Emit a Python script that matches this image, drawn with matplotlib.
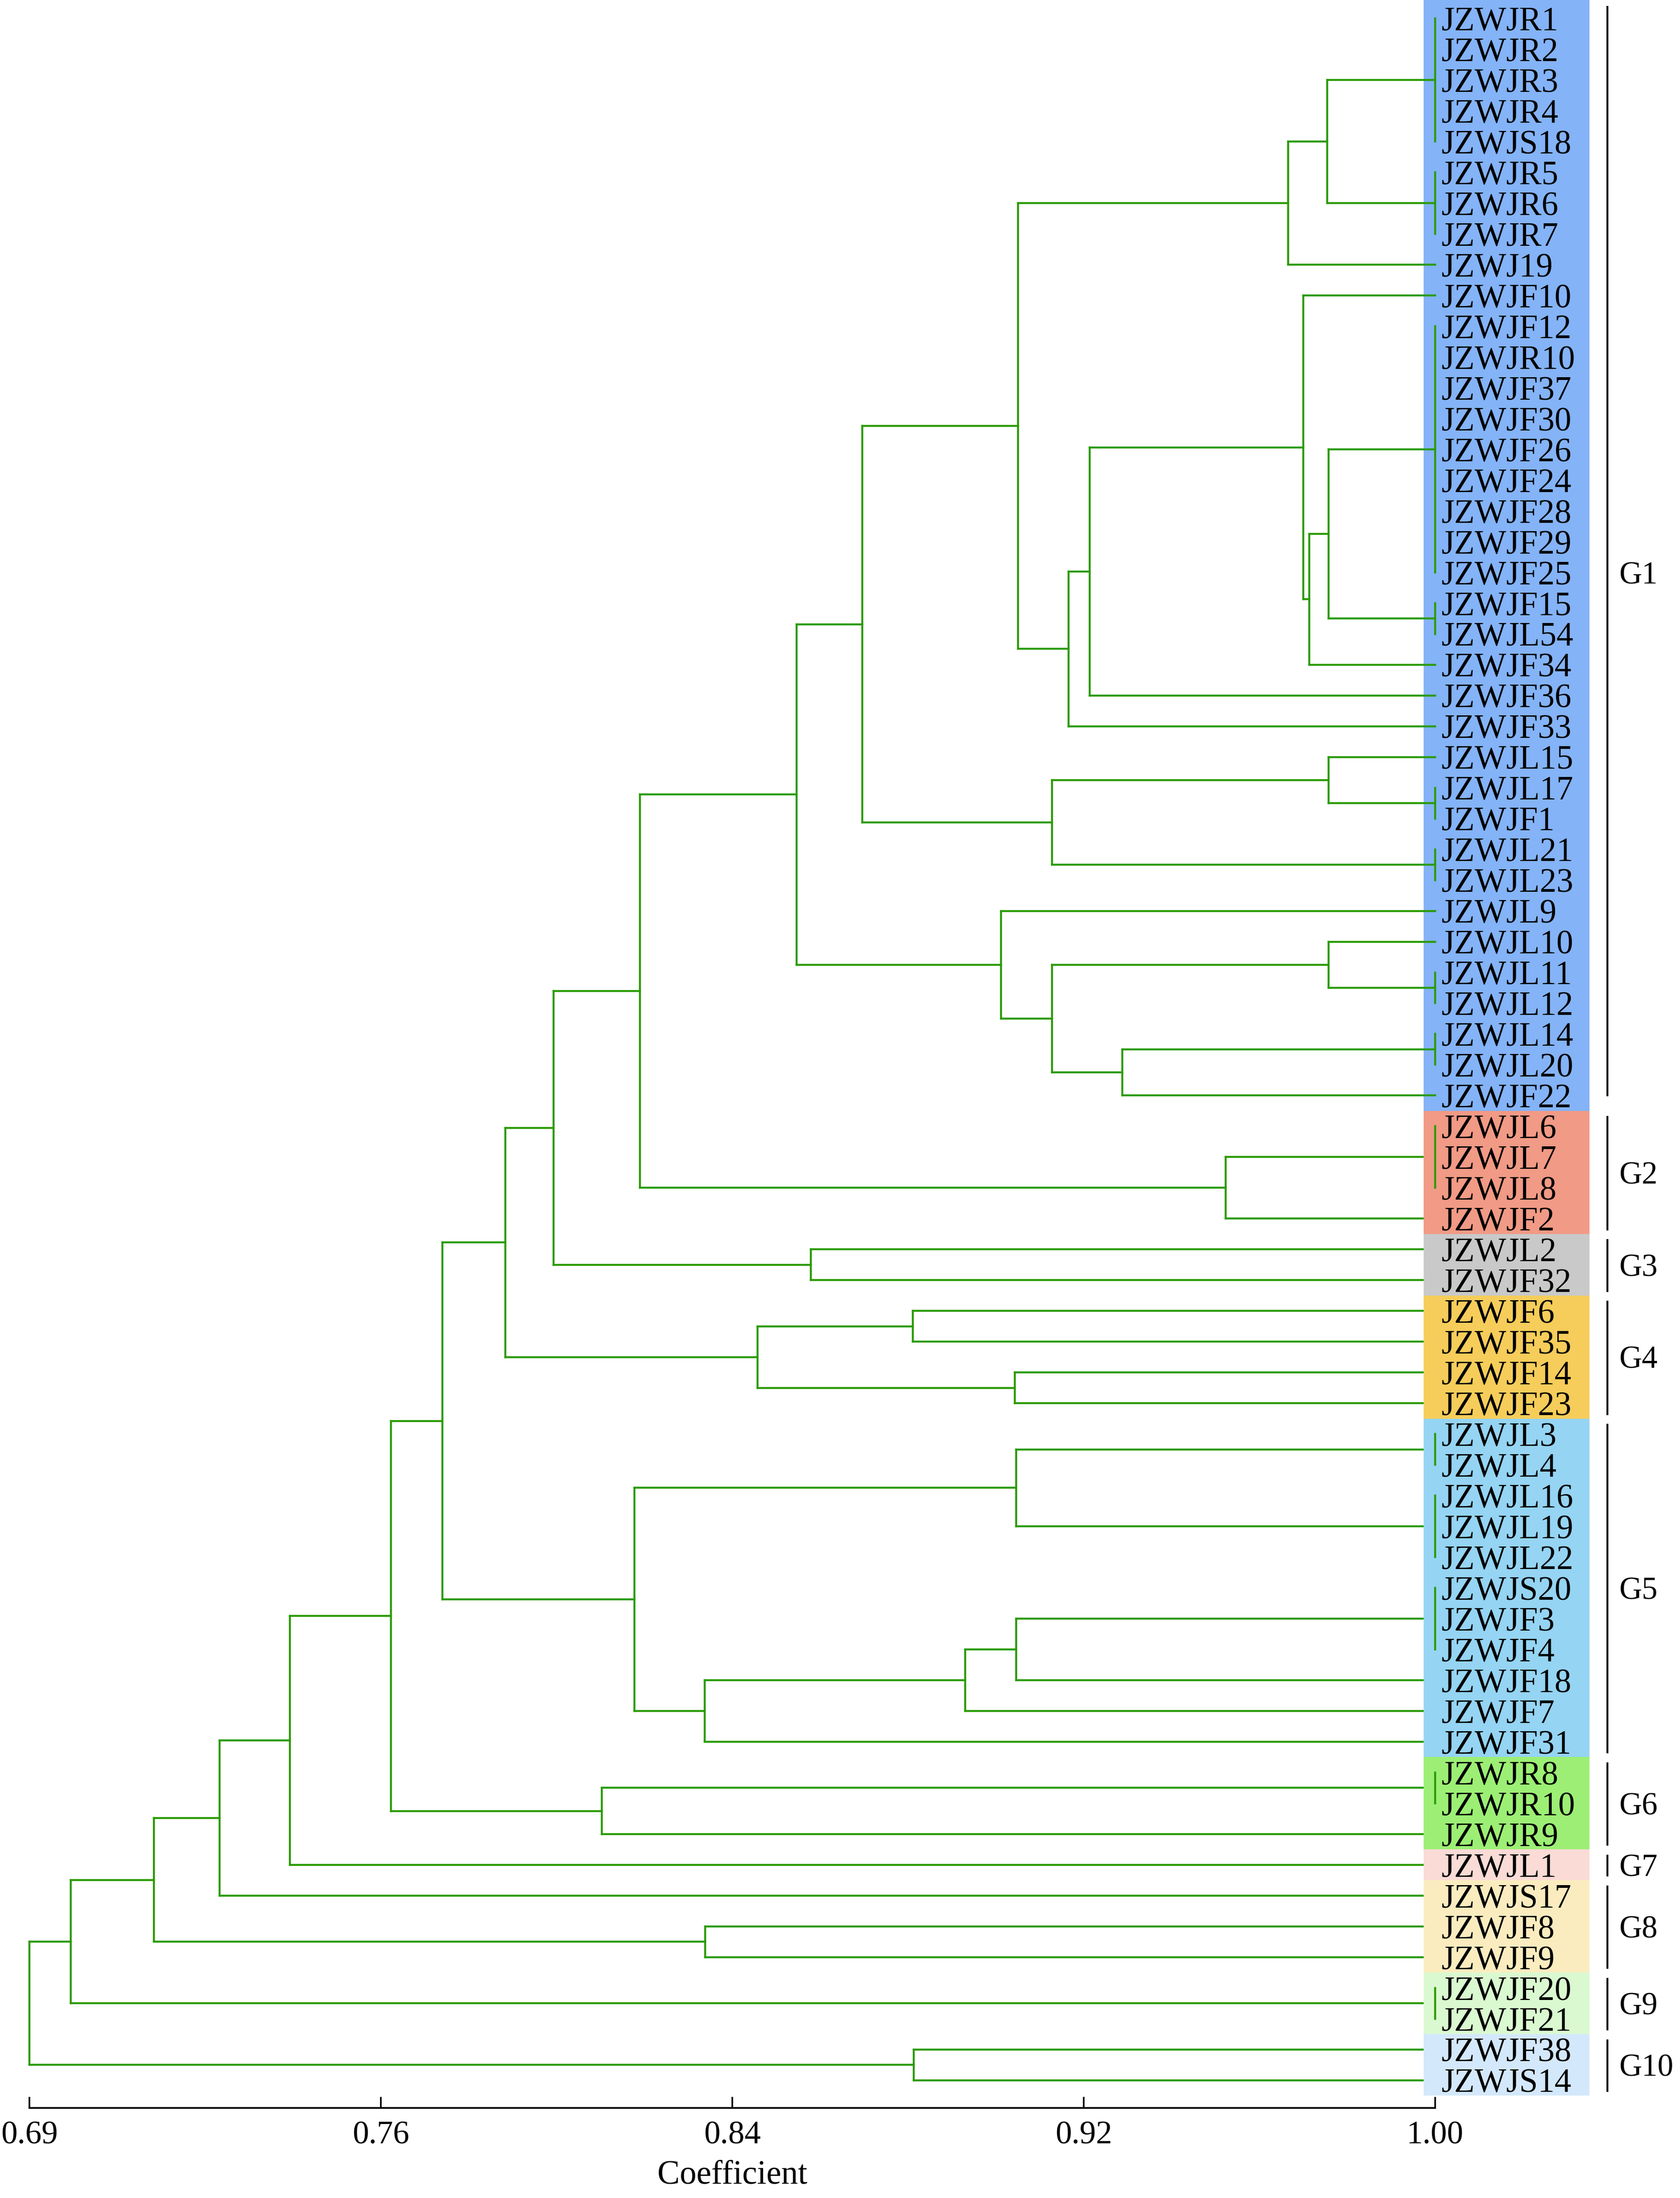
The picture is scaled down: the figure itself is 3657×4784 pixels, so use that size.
# -*- coding: utf-8 -*-
"""
UPGMA style dendrogram of JZWJ accessions, groups G1-G10 shaded on the right
"""
import numpy as np
import matplotlib
matplotlib.use('Agg')
from matplotlib import pyplot as plt
from matplotlib.patches import Rectangle

plt.rcParams['font.family'] = ['Liberation Serif', 'DejaVu Serif']

# leaf labels, top to bottom
leaves = ['JZWJR1', 'JZWJR2', 'JZWJR3', 'JZWJR4', 'JZWJS18', 'JZWJR5', 'JZWJR6',
          'JZWJR7', 'JZWJ19', 'JZWJF10', 'JZWJF12', 'JZWJR10', 'JZWJF37', 'JZWJF30',
          'JZWJF26', 'JZWJF24', 'JZWJF28', 'JZWJF29', 'JZWJF25', 'JZWJF15', 'JZWJL54',
          'JZWJF34', 'JZWJF36', 'JZWJF33', 'JZWJL15', 'JZWJL17', 'JZWJF1', 'JZWJL21',
          'JZWJL23', 'JZWJL9', 'JZWJL10', 'JZWJL11', 'JZWJL12', 'JZWJL14', 'JZWJL20',
          'JZWJF22',
          'JZWJL6', 'JZWJL7', 'JZWJL8', 'JZWJF2',
          'JZWJL2', 'JZWJF32',
          'JZWJF6', 'JZWJF35', 'JZWJF14', 'JZWJF23',
          'JZWJL3', 'JZWJL4', 'JZWJL16', 'JZWJL19', 'JZWJL22', 'JZWJS20', 'JZWJF3',
          'JZWJF4', 'JZWJF18', 'JZWJF7', 'JZWJF31',
          'JZWJR8', 'JZWJR10', 'JZWJR9',
          'JZWJL1',
          'JZWJS17', 'JZWJF8', 'JZWJF9',
          'JZWJF20', 'JZWJF21',
          'JZWJF38', 'JZWJS14']

# merges: (node, children top->bottom, similarity coefficient)
# ints are leaf indices, strings are earlier nodes
merges = [
    ('n1', [0, 1, 2, 3, 4], 1.000),
    ('n2', [5, 6, 7], 1.000),
    ('n3', ['n1', 'n2'], 0.9762),
    ('n4', ['n3', 8], 0.9676),
    ('n5', [10, 11, 12, 13, 14, 15, 16, 17, 18], 1.000),
    ('n6', [19, 20], 1.000),
    ('n7', ['n5', 'n6'], 0.9765),
    ('n8', ['n7', 21], 0.9722),
    ('n9', [9, 'n8'], 0.9709),
    ('n10', ['n9', 22], 0.9238),
    ('n11', ['n10', 23], 0.9192),
    ('n12', ['n4', 'n11'], 0.9080),
    ('n13', [25, 26], 1.000),
    ('n14', [24, 'n13'], 0.9765),
    ('n15', [27, 28], 1.000),
    ('n16', ['n14', 'n15'], 0.9155),
    ('n17', ['n12', 'n16'], 0.8737),
    ('n18', [31, 32], 1.000),
    ('n19', [30, 'n18'], 0.9765),
    ('n20', [33, 34], 1.000),
    ('n21', ['n20', 35], 0.9310),
    ('n22', ['n19', 'n21'], 0.9155),
    ('n23', [29, 'n22'], 0.9043),
    ('n24', ['n17', 'n23'], 0.8592),
    ('n25', [36, 37, 38], 1.000),
    ('n26', ['n25', 39], 0.9538),
    ('n27', ['n24', 'n26'], 0.8246),
    ('n28', [40, 41], 0.8623),
    ('n29', ['n27', 'n28'], 0.8056),
    ('n30', [42, 43], 0.8848),
    ('n31', [44, 45], 0.9073),
    ('n32', ['n30', 'n31'], 0.8506),
    ('n33', ['n29', 'n32'], 0.7950),
    ('n34', [46, 47], 1.000),
    ('n35', [48, 49, 50], 1.000),
    ('n36', ['n34', 'n35'], 0.9076),
    ('n37', [51, 52, 53], 1.000),
    ('n38', ['n37', 54], 0.9076),
    ('n39', ['n38', 55], 0.8964),
    ('n40', ['n39', 56], 0.8389),
    ('n41', ['n36', 'n40'], 0.8234),
    ('n42', ['n33', 'n41'], 0.7811),
    ('n43', [57, 58], 1.000),
    ('n44', ['n43', 59], 0.8162),
    ('n45', ['n42', 'n44'], 0.7697),
    ('n46', ['n45', 60], 0.7474),
    ('n47', ['n46', 61], 0.7319),
    ('n48', [62, 63], 0.8390),
    ('n49', ['n47', 'n48'], 0.7175),
    ('n50', [64, 65], 1.000),
    ('n51', ['n49', 'n50'], 0.6991),
    ('n52', [66, 67], 0.8850),
    ('n53', ['n51', 'n52'], 0.6900),
]

# groups: name, first leaf, last leaf, shade colour
group_names = ['G1', 'G2', 'G3', 'G4', 'G5', 'G6', 'G7', 'G8', 'G9', 'G10']
group_first = [0, 36, 40, 42, 46, 57, 60, 61, 64, 66]
group_last = [35, 39, 41, 45, 56, 59, 60, 63, 65, 67]
group_colors = ['#84B3F7', '#F19A85', '#C9C9C9', '#F6CD5A', '#95D4F3',
                '#9CEF74', '#FADBD6', '#FBECBF', '#DAF9D0', '#D4E8FB']

tick_vals = np.linspace(0.69, 1.00, 5)
tick_labels = ['0.69', '0.76', '0.84', '0.92', '1.00']

W, H = 3657, 4784
fig = plt.figure(figsize=(W / 300, H / 300), dpi=300)
ax = fig.add_axes([64 / W, 196 / H, 3060 / W, 4588 / H])
ax.set_xlim(0.69, 1.00)
ax.set_ylim(67.9, -0.6)

green = '#2B9B00'
lw = 1.05

# tree
pos = {}
for i in range(len(leaves)):
    pos[i] = (1.0, float(i))
for name, kids, h in merges:
    ys = [pos[k][1] for k in kids]
    for k in kids:
        x0, y0 = pos[k]
        if x0 != h:
            ax.plot([x0, h], [y0, y0], color=green, lw=lw, zorder=2,
                    solid_capstyle='projecting', clip_on=False)
    ax.plot([h, h], [ys[0], ys[-1]], color=green, lw=lw,
            zorder=4 if h >= 1.0 else 2, solid_capstyle='projecting',
            clip_on=False)
    pos[name] = (h, (ys[0] + ys[-1]) / 2)

# leaf labels
for i, lab in enumerate(leaves):
    ax.text(1.0014, i, lab, fontsize=17.5, ha='left', va='center_baseline',
            zorder=5, clip_on=False)

# shaded boxes, brackets and group names
for g, (gn, a, b, c) in enumerate(zip(group_names, group_first, group_last, group_colors)):
    top = -0.6 if g == 0 else a - 0.5
    box = Rectangle((0.9975, top), 1.034 - 0.9975, (b + 0.5) - top,
                    facecolor=c, edgecolor='none', zorder=1 if g == 0 else 3,
                    clip_on=False)
    ax.add_patch(box)
    y0 = -0.38 if g == 0 else a - 0.3
    y1 = b if g == 0 else b + 0.35
    ax.plot([1.038, 1.038], [y0, y1], color='black', lw=1.0, clip_on=False)
    ym = 18.0 if g == 0 else (a + b) / 2
    ax.text(1.0405, ym, gn, fontsize=16.5, ha='left', va='center_baseline',
            clip_on=False)

# axis
for s in ['top', 'left', 'right']:
    ax.spines[s].set_visible(False)
ax.spines['bottom'].set_linewidth(0.9)
ax.set_yticks([])
ax.set_xticks(tick_vals)
ax.set_xticklabels(tick_labels)
ax.tick_params(axis='x', direction='in', length=5.8, width=0.85, pad=6.5,
               labelsize=17)
ax.set_xlabel('Coefficient', fontsize=17.5, labelpad=5)

fig.savefig('out.png', dpi=300)
